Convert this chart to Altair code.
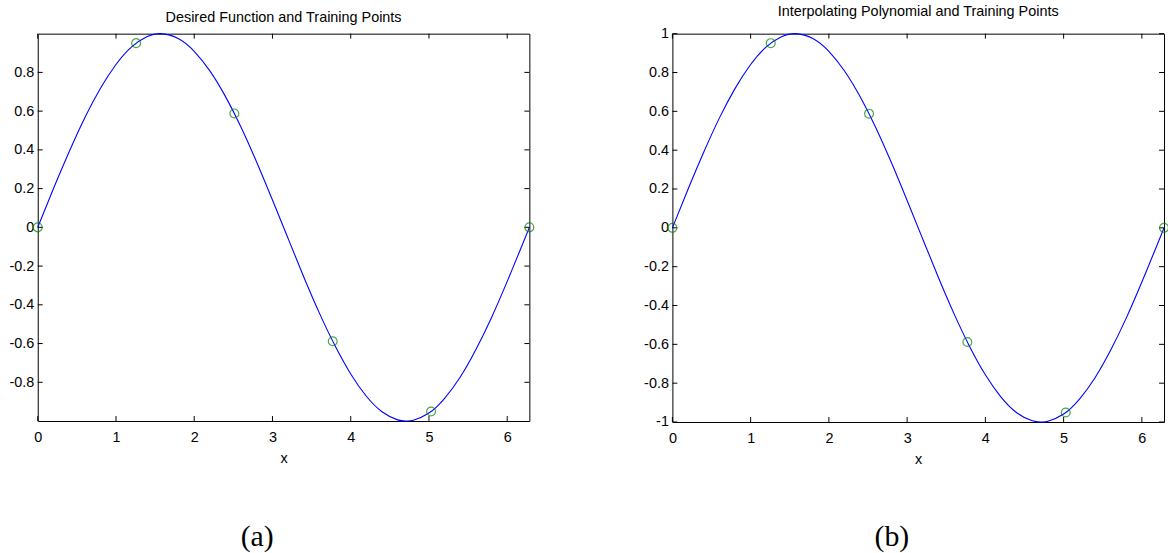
import altair as alt
import pandas as pd

# ---- data ----
curve_x = [0.0, 0.2, 0.4, 0.6, 0.8, 1.0, 1.2, 1.4, 1.571, 1.8, 2.0, 2.2, 2.4, 2.6, 2.8,
           3.0, 3.2, 3.4, 3.6, 3.8, 4.0, 4.2, 4.4, 4.6, 4.712, 4.8, 5.0, 5.2, 5.4, 5.6,
           5.8, 6.0, 6.2, 6.283]
curve_y = [0.000, 0.199, 0.389, 0.565, 0.717, 0.841, 0.932, 0.985, 1.000, 0.974, 0.909,
           0.808, 0.675, 0.516, 0.335, 0.141, -0.058, -0.256, -0.443, -0.612, -0.757,
           -0.872, -0.952, -0.994, -1.000, -0.996, -0.959, -0.883, -0.773, -0.631,
           -0.465, -0.279, -0.083, 0.000]

train_x = [0.0, 1.257, 2.513, 3.770, 5.027, 6.283]
train_y = [0.0, 0.951, 0.588, -0.588, -0.951, 0.0]

x_ticks = [0, 1, 2, 3, 4, 5, 6]
y_ticks_a = [-0.8, -0.6, -0.4, -0.2, 0, 0.2, 0.4, 0.6, 0.8]
y_ticks_b = [-1, -0.8, -0.6, -0.4, -0.2, 0, 0.2, 0.4, 0.6, 0.8, 1]

titles = ["Desired Function and Training Points",
          "Interpolating Polynomial and Training Points"]
panel_labels = ["(a)", "(b)"]

X_MAX = 6.2832
FONT = "Liberation Sans"
FS = 14.5


def panel(title, y_ticks, label, W, H):
    curve = pd.DataFrame({"x": curve_x, "y": curve_y})
    pts = pd.DataFrame({"x": train_x, "y": train_y})
    xt = pd.DataFrame({"x": x_ticks})
    yt = pd.DataFrame({"y": y_ticks})
    lab = pd.DataFrame({"label": [label]})

    x_axis = alt.Axis(values=x_ticks, labelExpr="toString(datum.value)", ticks=False,
                      tickSize=0, domain=False, grid=False, labelPadding=10,
                      title="x", titlePadding=7, labelFont=FONT, labelFontSize=FS,
                      titleFont=FONT, titleFontSize=FS, titleFontWeight="normal",
                      labelColor="black", titleColor="black", labelFlush=False)
    y_axis = alt.Axis(values=y_ticks, labelExpr="toString(datum.value)", ticks=False,
                      tickSize=0, domain=False, grid=False, labelPadding=4,
                      title=None, labelFont=FONT, labelFontSize=FS,
                      labelColor="black", labelFlush=False)
    xs = alt.Scale(domain=[0, X_MAX], nice=False, zero=False)
    ys = alt.Scale(domain=[-1, 1], nice=False, zero=False)

    line = alt.Chart(curve).mark_line(color="#0000ff", strokeWidth=1.1,
                                      interpolate="natural").encode(
        x=alt.X("x:Q", scale=xs, axis=x_axis),
        y=alt.Y("y:Q", scale=ys, axis=y_axis),
    )
    points = alt.Chart(pts).mark_point(shape="circle", filled=False, size=80,
                                       strokeWidth=1.2, color="#008000", clip=False).encode(
        x=alt.X("x:Q", scale=xs, axis=x_axis),
        y=alt.Y("y:Q", scale=ys, axis=y_axis),
    )
    tb = alt.Chart(xt).mark_rule(color="black", strokeWidth=1).encode(
        x=alt.X("x:Q", scale=xs, axis=x_axis), y=alt.value(H), y2=alt.value(H - 5))
    tt = alt.Chart(xt).mark_rule(color="black", strokeWidth=1).encode(
        x=alt.X("x:Q", scale=xs, axis=x_axis), y=alt.value(0), y2=alt.value(5))
    tl = alt.Chart(yt).mark_rule(color="black", strokeWidth=1).encode(
        y=alt.Y("y:Q", scale=ys, axis=y_axis), x=alt.value(0), x2=alt.value(5))
    tr = alt.Chart(yt).mark_rule(color="black", strokeWidth=1).encode(
        y=alt.Y("y:Q", scale=ys, axis=y_axis), x=alt.value(W - 5), x2=alt.value(W))
    txt = alt.Chart(lab).mark_text(font="Liberation Serif", fontSize=30, align="center",
                                   baseline="alphabetic", color="black").encode(
        text="label:N", x=alt.value(221), y=alt.value(516))

    return alt.layer(line, tb, tt, tl, tr, points, txt).properties(
        width=W, height=H,
        title=alt.TitleParams(title, font=FONT, fontSize=FS, fontWeight="normal",
                              color="black", offset=6, anchor="middle"),
    )


left = panel(titles[0], y_ticks_a, panel_labels[0], 495, 390)
right = panel(titles[1], y_ticks_b, panel_labels[1], 495, 391)

chart = alt.hconcat(left, right, spacing=144, bounds="flush").properties(
    padding={"left": 8, "top": 2, "right": -4, "bottom": 0},
    background="white",
).configure_view(stroke="black", strokeWidth=1)

chart.save("out.html", embed_options={"renderer": "svg", "actions": False})
